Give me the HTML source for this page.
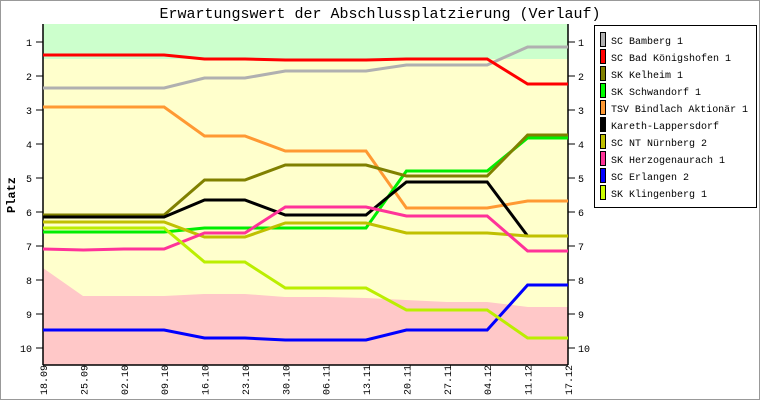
<!DOCTYPE html><html><head><style>body{margin:0;background:#fff}svg text{font-family:"Liberation Mono",monospace}</style></head><body>
<svg width="760" height="400" xmlns="http://www.w3.org/2000/svg">
<rect x="0.5" y="0.5" width="759" height="399" fill="#fff" stroke="#999"/>
<text x="380" y="18" font-size="15" text-anchor="middle">Erwartungswert der Abschlussplatzierung (Verlauf)</text>
<rect x="43" y="24" width="525" height="341" fill="#ffc8c8"/>
<polygon fill="#ffffcc" points="43,59 568,59 568,307 528,307 487,302 447,302 406,300 366,298 325,297 285,297 245,294 204,294 164,296 124,296 83,296 43,268"/>
<rect x="43" y="24" width="525" height="35" fill="#ccffcc"/>
<g stroke="#000" stroke-width="1.5"><line x1="43" y1="24" x2="43" y2="365"/><line x1="568" y1="24" x2="568" y2="365"/><line x1="43" y1="365" x2="568" y2="365"/></g>
<g stroke="#000">
<path d="M36 42H43M36 76H43M36 110H43M36 144H43M36 178H43M36 212H43M36 246H43M36 280H43M36 314H43M36 348H43M568 42H575M568 76H575M568 110H575M568 144H575M568 178H575M568 212H575M568 246H575M568 280H575M568 314H575M568 348H575"/>
</g>
<g font-size="10" text-anchor="end">
<text x="32" y="46">1</text><text x="32" y="80">2</text><text x="32" y="114">3</text><text x="32" y="148">4</text><text x="32" y="182">5</text><text x="32" y="216">6</text><text x="32" y="250">7</text><text x="32" y="284">8</text><text x="32" y="318">9</text><text x="32" y="352">10</text>
</g>
<g font-size="10">
<text x="578" y="46">1</text><text x="578" y="80">2</text><text x="578" y="114">3</text><text x="578" y="148">4</text><text x="578" y="182">5</text><text x="578" y="216">6</text><text x="578" y="250">7</text><text x="578" y="284">8</text><text x="578" y="318">9</text><text x="578" y="352">10</text>
</g>
<g font-size="10">
<text transform="translate(47,395) rotate(-90)">18.09</text>
<text transform="translate(87.4,395) rotate(-90)">25.09</text>
<text transform="translate(127.8,395) rotate(-90)">02.10</text>
<text transform="translate(168.1,395) rotate(-90)">09.10</text>
<text transform="translate(208.5,395) rotate(-90)">16.10</text>
<text transform="translate(248.9,395) rotate(-90)">23.10</text>
<text transform="translate(289.3,395) rotate(-90)">30.10</text>
<text transform="translate(329.7,395) rotate(-90)">06.11</text>
<text transform="translate(370,395) rotate(-90)">13.11</text>
<text transform="translate(410.4,395) rotate(-90)">20.11</text>
<text transform="translate(450.8,395) rotate(-90)">27.11</text>
<text transform="translate(491.2,395) rotate(-90)">04.12</text>
<text transform="translate(531.6,395) rotate(-90)">11.12</text>
<text transform="translate(572,395) rotate(-90)">17.12</text>
</g>
<g fill="none" stroke-width="3">
<polyline stroke="#b0b0b0" points="43,88 83.4,88 123.8,88 164.1,88 204.5,78 244.9,78 285.3,71 325.7,71 366,71 406.4,65 446.8,65 487.2,65 527.6,47 568,47"/>
<polyline stroke="#ff0000" points="43,55 83.4,55 123.8,55 164.1,55 204.5,59 244.9,59 285.3,60 325.7,60 366,60 406.4,59 446.8,59 487.2,59 527.6,84 568,84"/>
<polyline stroke="#ff9933" points="43,107 83.4,107 123.8,107 164.1,107 204.5,136 244.9,136 285.3,151 325.7,151 366,151 406.4,208 446.8,208 487.2,208 527.6,201 568,201"/>
<polyline stroke="#00ee00" points="43,232 83.4,232 123.8,232 164.1,232 204.5,228 244.9,228 285.3,228 325.7,228 366,228 406.4,171 446.8,171 487.2,171 527.6,138 568,138"/>
<polyline stroke="#808000" points="43,215 83.4,215 123.8,215 164.1,215 204.5,180 244.9,180 285.3,165 325.7,165 366,165 406.4,176 446.8,176 487.2,176 527.6,135 568,135"/>
<polyline stroke="#000000" points="43,217 83.4,217 123.8,217 164.1,217 204.5,200 244.9,200 285.3,215 325.7,215 366,215 406.4,182 446.8,182 487.2,182 527.6,236"/>
<polyline stroke="#c0c000" points="43,222 83.4,222 123.8,222 164.1,222 204.5,237 244.9,237 285.3,223 325.7,223 366,223 406.4,233 446.8,233 487.2,233 527.6,236 568,236"/>
<polyline stroke="#ff3399" points="43,249 83.4,250 123.8,249 164.1,249 204.5,233 244.9,233 285.3,207 325.7,207 366,207 406.4,216 446.8,216 487.2,216 527.6,251 568,251"/>
<polyline stroke="#0000ff" points="43,330 83.4,330 123.8,330 164.1,330 204.5,338 244.9,338 285.3,340 325.7,340 366,340 406.4,330 446.8,330 487.2,330 527.6,285 568,285"/>
<polyline stroke="#bbee00" points="43,228 83.4,228 123.8,228 164.1,228 204.5,262 244.9,262 285.3,288 325.7,288 366,288 406.4,310 446.8,310 487.2,310 527.6,338 568,338"/>
</g>
<rect x="594.5" y="25.5" width="162" height="182" fill="#fff" stroke="#000"/>
<g stroke="#000">
<rect x="600.5" y="32.5" width="5" height="14" fill="#b0b0b0"/>
<rect x="600.5" y="49.5" width="5" height="14" fill="#ff0000"/>
<rect x="600.5" y="66.5" width="5" height="14" fill="#808000"/>
<rect x="600.5" y="83.5" width="5" height="14" fill="#00ff00"/>
<rect x="600.5" y="100.5" width="5" height="14" fill="#ff9933"/>
<rect x="600.5" y="117.5" width="5" height="14" fill="#000000"/>
<rect x="600.5" y="134.5" width="5" height="14" fill="#c0c000"/>
<rect x="600.5" y="151.5" width="5" height="14" fill="#ff3399"/>
<rect x="600.5" y="168.5" width="5" height="14" fill="#0000ff"/>
<rect x="600.5" y="185.5" width="5" height="14" fill="#ccff00"/>
</g>
<g font-size="10">
<text x="611" y="44">SC Bamberg 1</text>
<text x="611" y="61">SC Bad Königshofen 1</text>
<text x="611" y="78">SK Kelheim 1</text>
<text x="611" y="95">SK Schwandorf 1</text>
<text x="611" y="112" textLength="137">TSV Bindlach Aktionär 1</text>
<text x="611" y="129">Kareth-Lappersdorf</text>
<text x="611" y="146">SC NT Nürnberg 2</text>
<text x="611" y="163">SK Herzogenaurach 1</text>
<text x="611" y="180">SC Erlangen 2</text>
<text x="611" y="197">SK Klingenberg 1</text>
</g>
<text transform="translate(15,195) rotate(-90)" font-size="12" font-weight="bold" text-anchor="middle">Platz</text>
</svg></body></html>
